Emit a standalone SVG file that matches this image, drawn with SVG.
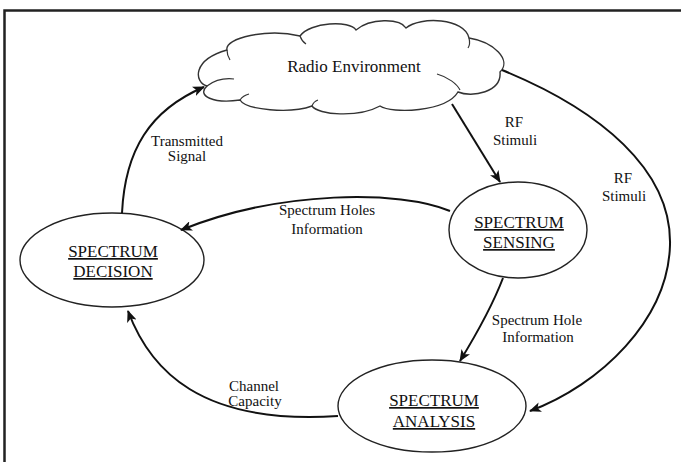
<svg xmlns="http://www.w3.org/2000/svg" width="681" height="462" viewBox="0 0 681 462">
<style>
.node{fill:#fff;stroke:#222;stroke-width:1.4}
.cloud{fill:#fff;stroke:#333;stroke-width:1.4}
.inner{fill:none;stroke:#333;stroke-width:1.2}
.conn{fill:none;stroke:#111;stroke-width:2;marker-end:url(#arr)}
.t{font-family:"Liberation Serif","Times New Roman",serif;fill:#111;text-anchor:middle}
.nt{font-size:17px;text-decoration:underline}
.lt{font-size:15px}
.ct{font-size:17px}
</style>
<defs>
<marker id="arr" viewBox="0 0 12 10" refX="11" refY="5" markerWidth="12" markerHeight="10" markerUnits="userSpaceOnUse" orient="auto">
<path d="M0,0 L12,5 L0,10 L3,5 Z" fill="#111"/>
</marker>
</defs>
<rect width="681" height="462" fill="#fff"/>
<path d="M4.5,462 V10.5 H681" fill="none" stroke="#222" stroke-width="2.5"/>

<g id="radio-environment">
<path class="cloud" d="M207,86 C194,82 192,60 227,50 C224,38 268,28 300,36 C310,22 350,20 356,30 C370,18 400,18 406,28 C420,16 465,18 469,38 C494,42 512,60 500,72 C502,92 472,98 458,92 C446,112 392,114 380,106 C358,118 318,115 312,106 C290,114 246,110 240,100 C214,104 196,96 207,86 Z"/>
<path class="inner" d="M207,86 C215,80 225,78 234,79"/>
<path class="inner" d="M227,50 C227,54 228,57 230,60"/>
<path class="inner" d="M300,36 C301,39 303,42 306,44"/>
<path class="inner" d="M437,74 C448,77 457,84 460,90"/>
<path class="inner" d="M240,100 C242,97 245,95 249,94"/>
<path class="inner" d="M312,106 C313,103 315,101 318,100"/>
<path class="inner" d="M469,38 C470,42 470,45 468,48"/>
<text class="t ct" x="354" y="72">Radio Environment</text>
</g>

<g id="spectrum-decision">
<ellipse class="node" cx="112" cy="260" rx="92" ry="47"/>
<text class="t nt" x="113" y="257">SPECTRUM</text>
<text class="t nt" x="113" y="277">DECISION</text>
</g>

<g id="spectrum-sensing">
<ellipse class="node" cx="518" cy="230" rx="69" ry="48"/>
<text class="t nt" x="519" y="228">SPECTRUM</text>
<text class="t nt" x="519" y="248">SENSING</text>
</g>

<g id="spectrum-analysis">
<ellipse class="node" cx="432" cy="406" rx="94" ry="46"/>
<text class="t nt" x="434" y="406">SPECTRUM</text>
<text class="t nt" x="434" y="427">ANALYSIS</text>
</g>

<g id="connectors">
<path class="conn" d="M122,213 C125,150 150,110 204,87"/>
<path class="conn" d="M452,104 L500,182"/>
<path class="conn" d="M502,70 C600,110 672,170 670,245 C668,320 600,385 530,411"/>
<path class="conn" d="M450,211 C400,190 280,190 181,230"/>
<path class="conn" d="M503,278 Q490,312 460,361"/>
<path class="conn" d="M338,416 C200,425 150,370 128,311"/>
</g>

<g id="labels">
<text class="t lt" x="187" y="146">Transmitted</text>
<text class="t lt" x="187" y="161">Signal</text>
<text class="t lt" x="514" y="127">RF</text>
<text class="t lt" x="515" y="145">Stimuli</text>
<text class="t lt" x="623" y="183">RF</text>
<text class="t lt" x="624" y="201">Stimuli</text>
<text class="t lt" x="327" y="215">Spectrum Holes</text>
<text class="t lt" x="327" y="234">Information</text>
<text class="t lt" x="537" y="325">Spectrum Hole</text>
<text class="t lt" x="538" y="342">Information</text>
<text class="t lt" x="254" y="391">Channel</text>
<text class="t lt" x="255" y="406">Capacity</text>
</g>
</svg>
